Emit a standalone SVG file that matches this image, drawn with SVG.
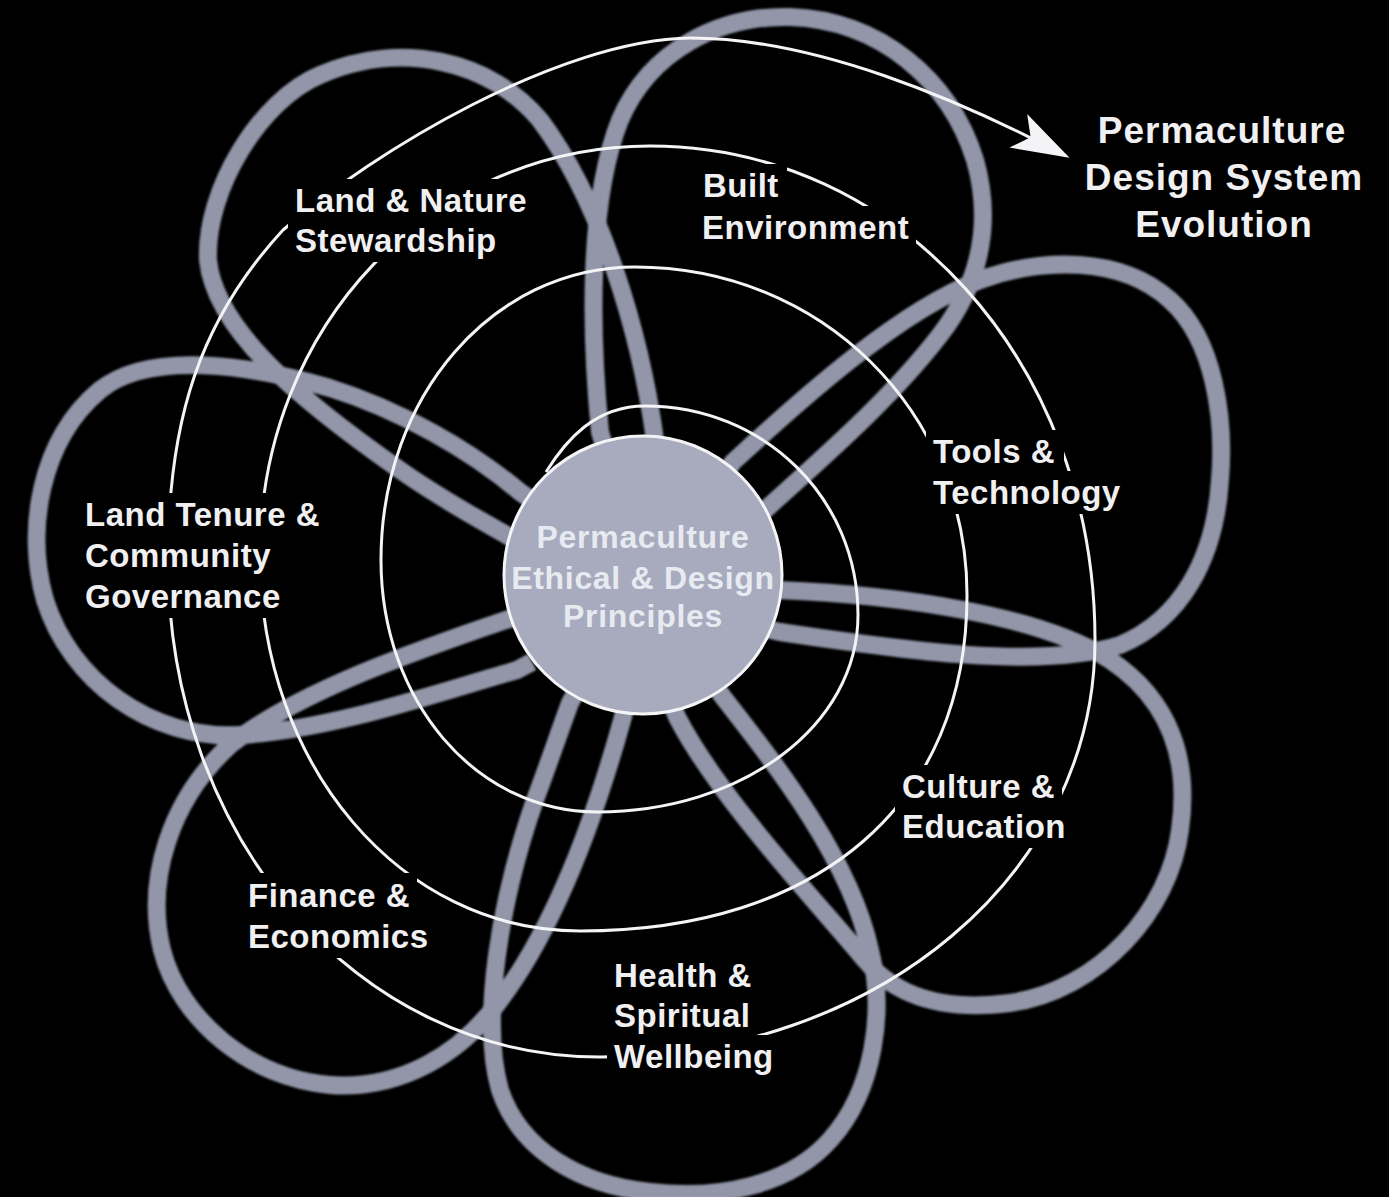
<svg xmlns="http://www.w3.org/2000/svg" width="1389" height="1197" viewBox="0 0 1389 1197">
<defs>
<style>
.petal{fill:none;stroke:#9296a8;stroke-width:18;stroke-linejoin:round}
.spiral{fill:none;stroke:#f4f4f6;stroke-width:3}
.lbl{font-family:"Liberation Sans",Arial,sans-serif;font-weight:bold;font-size:33px;fill:#f0f0f2;letter-spacing:0.5px}
.title{font-family:"Liberation Sans",Arial,sans-serif;font-weight:bold;font-size:37px;fill:#f0f0f2;letter-spacing:1px;text-anchor:middle}
.ctr{font-family:"Liberation Sans",Arial,sans-serif;font-weight:bold;font-size:32px;fill:#e8eaf1;letter-spacing:0.7px;text-anchor:middle}
</style>
<filter id="soft" x="-5%" y="-5%" width="110%" height="110%"><feGaussianBlur stdDeviation="1.3"/></filter>
<marker id="arrow" markerUnits="userSpaceOnUse" markerWidth="70" markerHeight="50" viewBox="-60 -25 70 50" refX="0" refY="0" orient="auto">
<path d="M4,0 L-54,-19 L-40,0 L-54,19 Z" fill="#f4f4f6"/>
</marker>
<mask id="gaps" maskUnits="userSpaceOnUse" x="0" y="0" width="1389" height="1197">
<rect x="0" y="0" width="1389" height="1197" fill="#fff"/>
<g fill="#000">
<rect x="288" y="179" width="246" height="43"/>
<rect x="288" y="219" width="215" height="43"/>
<rect x="697" y="164" width="90" height="43"/>
<rect x="695" y="206" width="221" height="43"/>
<rect x="926" y="430" width="138" height="43"/>
<rect x="926" y="471" width="204" height="43"/>
<rect x="78" y="493" width="251" height="43"/>
<rect x="78" y="534" width="200" height="43"/>
<rect x="78" y="575" width="210" height="43"/>
<rect x="895" y="765" width="167" height="43"/>
<rect x="895" y="805" width="178" height="43"/>
<rect x="241" y="873" width="176" height="43"/>
<rect x="241" y="915" width="194" height="43"/>
<rect x="607" y="954" width="151" height="43"/>
<rect x="607" y="994" width="150" height="43"/>
<rect x="607" y="1035" width="174" height="43"/>
</g>
</mask>
</defs>
<rect x="0" y="0" width="1389" height="1197" fill="#000"/>
<g id="petals" filter="url(#soft)">
<path id="petal-land-nature" class="petal" d="M657,460 L655,440 C640,330 600,200 540,120 C490,60 400,40 320,75 C260,100 205,190 208,260 C215,330 300,400 400,470 C450,505 490,525 515,540 L532,548"/>
<path id="petal-built" class="petal" d="M606,452 L600,432 C590,330 588,200 620,120 C650,50 720,15 790,17 C880,20 950,80 975,160 C995,230 975,290 940,335 C890,400 820,460 765,510 L750,518"/>
<path id="petal-tools" class="petal" d="M720,480 L733,462 C800,400 900,310 980,280 C1040,258 1120,255 1170,300 C1215,340 1225,420 1220,480 C1215,560 1180,620 1120,645 C1040,670 900,650 780,632 L762,628"/>
<path id="petal-culture" class="petal" d="M760,590 L778,590 C900,595 1040,615 1110,660 C1170,700 1190,760 1180,830 C1170,910 1100,990 1010,1003 C940,1012 895,995 865,960 C820,905 720,800 677,717 L670,700"/>
<path id="petal-health" class="petal" d="M713,683 L723,697 C780,770 850,860 870,950 C885,1010 875,1090 830,1140 C790,1185 720,1200 650,1192 C580,1185 520,1150 500,1090 C480,1020 500,900 535,800 C550,760 560,730 570,703 L578,688"/>
<path id="petal-finance" class="petal" d="M627,700 L623,717 C600,800 560,920 500,1000 C460,1055 400,1090 330,1085 C250,1078 180,1020 162,950 C145,880 170,800 230,745 C300,690 420,650 497,623 L515,617"/>
<path id="petal-land-tenure" class="petal" d="M532,662 L517,670 C430,695 330,730 240,735 C150,740 70,680 45,600 C25,530 40,440 100,390 C150,350 250,365 330,388 C400,410 470,450 520,492 L536,503"/>
</g>
<g id="connectors">
<g mask="url(#gaps)">
<path id="evolution-spiral" class="spiral" marker-end="url(#arrow)" d="M546,472 C566,440 595,406 645,406 C764,406 858,498 858,615 C858,725 743,812 597,812 C476,812 381,701 381,560 C381,396 493,267 635,267 C821,267 967,411 967,595 C967,803 820,931 580,931 C401,931 260,766 260,555 C260,326 432,146 650,146 C899,146 1095,363 1095,640 C1095,874 877,1057 600,1057 C358,1057 168,838 168,560 C168,420 200,320 283,230 C375,150 560,40 690,38 C815,38 960,100 1066,156"/>
</g>
</g>
<g id="node-center">
<circle cx="643" cy="575" r="139" fill="#a7abbd" stroke="#f4f4f6" stroke-width="3"/>
<text class="ctr" x="643" y="548">Permaculture</text>
<text class="ctr" x="643" y="589">Ethical &amp; Design</text>
<text class="ctr" x="643" y="627">Principles</text>
</g>
<g id="node-land-nature"><text class="lbl" x="295" y="212">Land &amp; Nature</text><text class="lbl" x="295" y="252">Stewardship</text></g>
<g id="node-built"><text class="lbl" x="703" y="197">Built</text><text class="lbl" x="702" y="239">Environment</text></g>
<g id="node-tools"><text class="lbl" x="933" y="463">Tools &amp;</text><text class="lbl" x="933" y="504">Technology</text></g>
<g id="node-culture"><text class="lbl" x="902" y="798">Culture &amp;</text><text class="lbl" x="902" y="838">Education</text></g>
<g id="node-health"><text class="lbl" x="614" y="987">Health &amp;</text><text class="lbl" x="614" y="1027">Spiritual</text><text class="lbl" x="614" y="1068">Wellbeing</text></g>
<g id="node-finance"><text class="lbl" x="248" y="907">Finance &amp;</text><text class="lbl" x="248" y="948">Economics</text></g>
<g id="node-land-tenure"><text class="lbl" x="85" y="526">Land Tenure &amp;</text><text class="lbl" x="85" y="567">Community</text><text class="lbl" x="85" y="608">Governance</text></g>
<g id="node-evolution"><text class="title" x="1222" y="143">Permaculture</text><text class="title" x="1224" y="190">Design System</text><text class="title" x="1224" y="237">Evolution</text></g>
</svg>
